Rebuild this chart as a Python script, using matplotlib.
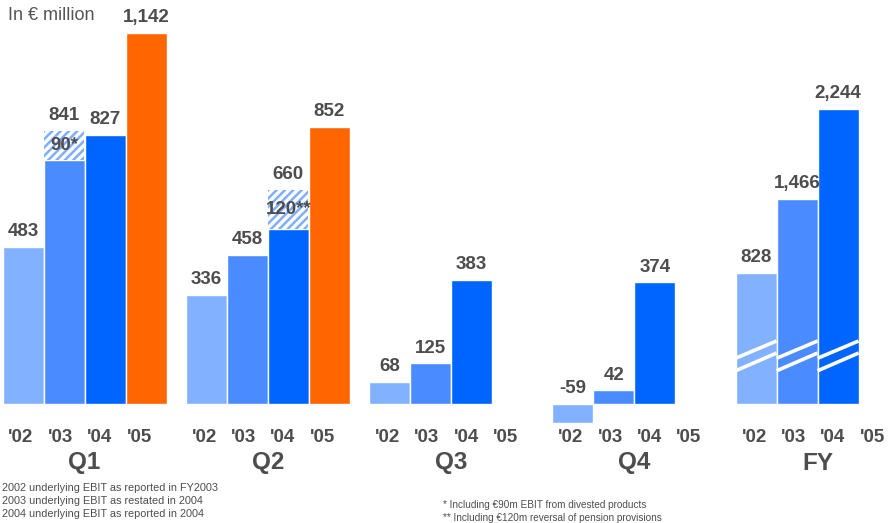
import matplotlib
matplotlib.use('Agg')
import matplotlib.pyplot as plt
import matplotlib.transforms as mtransforms

plt.rcParams['font.family'] = ['Liberation Sans', 'DejaVu Sans']
plt.rcParams['hatch.linewidth'] = 1.8

# underlying EBIT, in EUR million
periods = ['Q1', 'Q2', 'Q3', 'Q4', 'FY']
years = ["'02", "'03", "'04", "'05"]
ebit_02 = [483, 336, 68, -59, 828]
ebit_03 = [841, 458, 125, 42, 1466]
ebit_04 = [827, 660, 383, 374, 2244]
ebit_05 = [1142, 852, None, None, None]
series = [ebit_02, ebit_03, ebit_04, ebit_05]

# one-off items shown hatched on top of the bar: (period, year) -> (amount, label)
one_offs = {(0, 1): (90, '90*'), (1, 2): (120, '120**')}

colors = ['#82B1FF', '#4A8CFF', '#0064FF', '#FF6600']
hatch_col = '#80AEFF'
txt = '#4D4D4D'

fig = plt.figure(figsize=(8.93, 5.23), dpi=100)
ax = fig.add_axes([0, 0, 1, 1])
ax2 = ax.twinx()   # FY uses its own (broken) scale

ax.set_xlim(-23 / 41, (893 - 23) / 41)
ax.set_ylim(-366, 1243)
ax2.set_ylim(-1328, 3181)
fy_base = -300   # where the broken FY axis meets the baseline

for a in (ax, ax2):
    a.axis('off')

group_pitch = 4.47
lab_tr = mtransforms.blended_transform_factory(ax.transData, ax.transAxes)

for g, per in enumerate(periods):
    for i, yr in enumerate(years):
        x = g * group_pitch + i
        ax.text(x - 0.05 - 0.04 * i, 1 - 437 / 523, yr, transform=lab_tr, ha='center',
                va='center', fontsize=13.5, fontweight='bold', color=txt)
        v = series[i][g]
        if v is None:
            continue
        if per == 'FY':
            tgt, base = ax2, fy_base
        else:
            tgt, base = ax, 0
        extra, extra_lab = one_offs.get((g, i), (0, None))
        solid = v - extra
        tgt.bar(x, solid - base, bottom=base, width=1.0, color=colors[i],
                edgecolor='white', linewidth=1)
        if extra:
            tgt.bar(x, extra, bottom=solid, width=0.98, color='white',
                    edgecolor=hatch_col, hatch='////', linewidth=0)
            tgt.text(x, solid + extra / 2, extra_lab, ha='center', va='center',
                     fontsize=13.5, fontweight='bold', color=txt)
        tgt.annotate(f'{v:,}', (x, max(v, 0)), xytext=(0, 11), textcoords='offset points',
                     ha='center', va='center', fontsize=13.5, fontweight='bold', color=txt)
    ax.text(g * group_pitch + 1.5, 1 - 463 / 523, per, transform=lab_tr, ha='center',
            va='center', fontsize=17.5, fontweight='bold', color=txt)

# break marks on FY bars
brk_tr = mtransforms.blended_transform_factory(ax2.transData, ax2.transAxes)
for i in range(3):
    x = 4 * group_pitch + i
    for y0, y1 in [(0.315, 0.348), (0.291, 0.325)]:
        ax2.plot([x - 0.5, x + 0.5], [y0, y1], transform=brk_tr, color='white',
                 linewidth=2.6, solid_capstyle='butt')

fig.text(8 / 893, 1 - 15 / 523, 'In € million', fontsize=13, color='#555555',
         ha='left', va='center')

notes_left = ['2002 underlying EBIT as reported in FY2003',
              '2003 underlying EBIT as restated in 2004',
              '2004 underlying EBIT as reported in 2004']
for k, line in enumerate(notes_left):
    fig.text(2 / 893, 1 - (488 + 13 * k) / 523, line, fontsize=7.8, color=txt,
             ha='left', va='center')

notes_right = ['* Including €90m EBIT from divested products',
               '** Including €120m reversal of pension provisions']
for k, line in enumerate(notes_right):
    fig.text(443 / 893, 1 - (505 + 13 * k) / 523, line, fontsize=7.2, color=txt,
             ha='left', va='center')

fig.savefig('out.png', dpi=100)
